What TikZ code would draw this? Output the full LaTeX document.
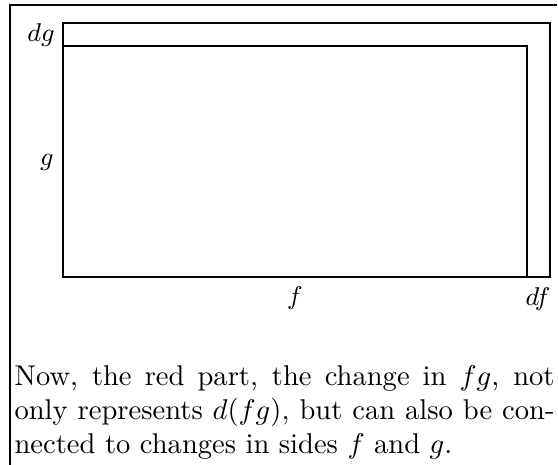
\documentclass[tikz,border=0pt]{standalone}
\begin{document}
\begin{tikzpicture}[x=0.35pt,y=-0.35pt,
  lbl/.style={font=\small, inner sep=0pt},
  edge/.style={line width=0.4pt},
  para/.style={inner sep=0pt, text width=189pt, align=justify, font=\normalsize}]
\useasboundingbox (0,0) rectangle (558,465);
% page border pieces
\coordinate (tl) at (10,5);
\coordinate (tr) at (557,5);
\coordinate (bl) at (10,465);
\draw[edge] (tr) -- (tl) -- (bl);
% rectangles
\coordinate (o1) at (63,23);
\coordinate (o2) at (550,277);
\coordinate (i1) at (63,46);
\coordinate (i2) at (527,277);
\draw[edge] (o1) rectangle (o2);
\draw[edge] (i1) rectangle (i2);
% labels
\node[lbl] (dg) at (41,35) {$dg$};
\node[lbl] (g) at (47,162) {$g$};
\node[lbl] (f) at (295,298) {$f$};
\node[lbl] (df) at (538,299) {$df$};
% text
\node[para, anchor=north west] (txt) at (14,365)
  {Now, the red part, the change in $fg$, not only represents $d(fg)$, but can also be connected to changes in sides $f$ and $g$.};
\end{tikzpicture}
\end{document}
